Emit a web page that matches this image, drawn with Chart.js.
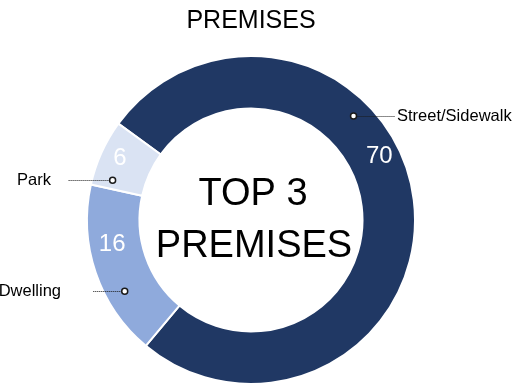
<!DOCTYPE html>
<html>
<head>
<meta charset="utf-8">
<script src="https://cdn.jsdelivr.net/npm/chart.js@4.4.0/dist/chart.umd.min.js"></script>
<style>
  html, body { margin: 0; padding: 0; background: #fff; }
  #wrap { width: 526px; height: 385px; }
</style>
</head>
<body>
<div id="wrap"><canvas id="premises-chart" width="526" height="385"></canvas></div>
<script>
const CATEGORIES   = ['Street/Sidewalk', 'Dwelling', 'Park'];
const COUNTS       = [70, 16, 6];
const COLORS       = ['#203864', '#8faadc', '#dae3f3'];
const CENTER_LINES = ['TOP 3', 'PREMISES'];
const TITLE        = 'PREMISES';
const FONT = '"Liberation Sans", Arial, sans-serif';

// where each slice's value and leader dot sit: fraction along the arc + radius
const SLICE_LABELS = [
  { valueAt: 0.43, valueR: 143, dotAt: 0.36, dotR: 146, side: 'right', lineTo: 395, textX: 397 },
  { valueAt: 0.64, valueR: 141, dotAt: 0.33, dotR: 145, side: 'left',  lineTo: 93,  textX: 61 },
  { valueAt: 0.54, valueR: 145, dotAt: 0.15, dotR: 144, side: 'left',  lineTo: 68,  textX: 51 },
];

const sliceLabels = {
  id: 'sliceLabels',
  afterDatasetsDraw(chart) {
    const ctx  = chart.ctx;
    const meta = chart.getDatasetMeta(0);
    let cx = 0, cy = 0;
    meta.data.forEach((arc, i) => {
      const { x, y, startAngle, endAngle } = arc.getProps(['x', 'y', 'startAngle', 'endAngle'], true);
      cx = x; cy = y;
      const o  = SLICE_LABELS[i];
      const at = (f, r) => {
        const a = startAngle + f * (endAngle - startAngle);
        return [x + r * Math.cos(a), y + r * Math.sin(a)];
      };
      ctx.save();
      // value inside the ring
      const [vx, vy] = at(o.valueAt, o.valueR);
      ctx.font = `24px ${FONT}`;
      ctx.fillStyle = '#fff';
      ctx.textAlign = 'center';
      ctx.textBaseline = 'middle';
      ctx.fillText(String(COUNTS[i]), vx, vy);

      // dotted leader + small open circle
      const [dx, dy] = at(o.dotAt, o.dotR);
      const ly = Math.round(dy) + 0.5;
      ctx.strokeStyle = '#1a1a1a';
      ctx.lineWidth = 1;
      ctx.setLineDash([1, 1]);
      ctx.beginPath();
      ctx.moveTo(dx + (o.side === 'right' ? 3 : -3), ly);
      ctx.lineTo(o.lineTo, ly);
      ctx.stroke();
      ctx.setLineDash([]);
      ctx.beginPath();
      ctx.arc(dx, dy, 3, 0, Math.PI * 2);
      ctx.fillStyle = '#fff';
      ctx.fill();
      ctx.lineWidth = 1.5;
      ctx.stroke();

      // category name
      ctx.fillStyle = '#000';
      ctx.font = `16.5px ${FONT}`;
      ctx.textAlign = o.side === 'right' ? 'left' : 'right';
      ctx.fillText(CATEGORIES[i], o.textX, dy);
      ctx.restore();
    });

    // big text in the hole
    ctx.save();
    ctx.font = `38px ${FONT}`;
    ctx.fillStyle = '#000';
    ctx.textAlign = 'center';
    ctx.textBaseline = 'middle';
    ctx.fillText(CENTER_LINES[0], cx + 2, cy - 25);
    ctx.fillText(CENTER_LINES[1], cx + 3, cy + 27);
    ctx.restore();
  }
};

new Chart(document.getElementById('premises-chart'), {
  type: 'doughnut',
  data: {
    labels: CATEGORIES,
    datasets: [{
      data: COUNTS,
      backgroundColor: COLORS,
      borderColor: '#fff',
      borderWidth: 2,
      hoverOffset: 0,
    }],
  },
  options: {
    responsive: false,
    animation: false,
    rotation: -54,
    radius: 164,
    cutout: '68%',
    layout: { padding: { top: 0, bottom: 1, left: 0, right: 24 } },
    plugins: {
      legend: { display: false },
      tooltip: { enabled: false },
      title: {
        display: true,
        text: TITLE,
        color: '#000',
        font: { family: FONT, size: 25, weight: 'normal' },
        padding: { top: 6, bottom: 20 },
      },
    },
  },
  plugins: [sliceLabels],
});
</script>
</body>
</html>
